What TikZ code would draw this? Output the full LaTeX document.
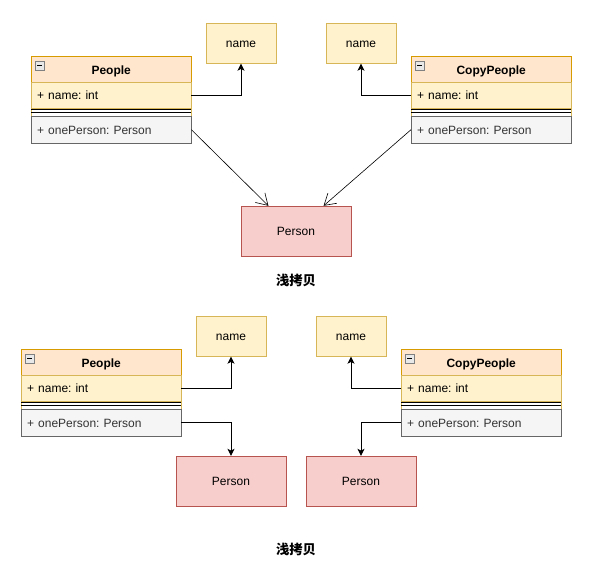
\documentclass[tikz,border=0pt]{standalone}
\usepackage{fontspec}
\setmainfont{Liberation Sans}
\newfontfamily\cjkfont{Noto Sans CJK SC}
\usetikzlibrary{arrows.meta,calc}
\frenchspacing

\definecolor{hdrfill}{HTML}{FFE6CC}
\definecolor{hdrline}{HTML}{D79B00}
\definecolor{attrfill}{HTML}{FFF2CC}
\definecolor{attrline}{HTML}{D6B656}
\definecolor{methfill}{HTML}{F5F5F5}
\definecolor{methline}{HTML}{666666}
\definecolor{methtext}{HTML}{333333}
\definecolor{pfill}{HTML}{F8CECC}
\definecolor{pline}{HTML}{B85450}

\tikzset{
  base/.style={inner sep=0pt, text height=11pt, text depth=2.4pt, font=\fontsize{12}{14}\selectfont},
  clshead/.style={base, draw=hdrline, fill=hdrfill, minimum width=160pt, minimum height=26pt, text height=11.6pt, text depth=1.8pt, font=\fontsize{12}{14}\selectfont\bfseries},
  clsattr/.style={base, draw=attrline, fill=attrfill, text width=148pt, inner xsep=6pt, align=left, minimum height=26pt},
  clsmeth/.style={base, draw=methline, fill=methfill, text=methtext, text width=148pt, inner xsep=6pt, align=left, minimum height=27pt},
  namebox/.style={base, draw=attrline, fill=attrfill, minimum width=70pt, minimum height=40pt},
  personbox/.style={base, draw=pline, fill=pfill, minimum width=110pt, minimum height=50pt},
  caption/.style={base, font=\fontsize{13.3}{15}\selectfont\cjkfont\bfseries},
  refarrow/.style={line width=0.9pt, -{Stealth[length=7pt,width=7pt,inset=1.8pt]}},
  openarrow/.style={line width=0.6pt, -{Straight Barb[length=11pt,width=13.5pt]}},
  toggle/.style={draw=gray, fill=gray!18, line width=0.6pt},
}

% UML class: id, left x, top y, title
\newcommand\umlclass[4]{%
  \node[clshead, anchor=north west] (#1-h) at (#2,#3) {#4};
  \draw[toggle] (#2+4,#3+5) rectangle ++(9,9);
  \draw[line width=0.9pt] (#2+6,#3+9.5) -- ++(5,0);
  \node[clsattr, anchor=north west] (#1-a) at (#2,#3+26) {+ name: int};
  \draw[attrline] (#2,#3+52) -- ++(0,8) (#2+160,#3+52) -- ++(0,8);
  \draw[line width=0.7pt] (#2,#3+53.5) -- ++(160,0) (#2,#3+56.3) -- ++(160,0);
  \node[clsmeth, anchor=north west] (#1-m) at (#2,#3+60) {+ onePerson: Person};
}

\begin{document}
\begin{tikzpicture}[x=1pt, y=-1pt]
  \useasboundingbox (0,0) rectangle (595,570);

  % ---- shallow copy: both classes share one Person ----
  \umlclass{pa}{31}{56}{People}
  \umlclass{ca}{411}{56}{CopyPeople}
  \node[namebox] (na1) at (241,43.5) {name};
  \node[namebox] (na2) at (361,43.5) {name};
  \node[personbox] (pa1) at (296,231) {Person};
  \node[caption] (cap1) at (296,281) {浅拷贝};

  \draw[refarrow] (pa-a.east) -| (na1.south);
  \draw[refarrow] (ca-a.west) -| (na2.south);
  \draw[openarrow] (pa-m.east) -- ($(pa1.north west)!0.25!(pa1.north east)$);
  \draw[openarrow] (ca-m.west) -- ($(pa1.north west)!0.75!(pa1.north east)$);

  % ---- second layout: each class with its own Person ----
  \umlclass{pb}{21}{349}{People}
  \umlclass{cb}{401}{349}{CopyPeople}
  \node[namebox] (nb1) at (231,336.5) {name};
  \node[namebox] (nb2) at (351,336.5) {name};
  \node[personbox] (pb1) at (231,481) {Person};
  \node[personbox] (pb2) at (361,481) {Person};
  \node[caption] (cap2) at (296,550) {浅拷贝};

  \draw[refarrow] (pb-a.east) -| (nb1.south);
  \draw[refarrow] (cb-a.west) -| (nb2.south);
  \draw[refarrow] (pb-m.east) -| (pb1.north);
  \draw[refarrow] (cb-m.west) -| (pb2.north);
\end{tikzpicture}
\end{document}
